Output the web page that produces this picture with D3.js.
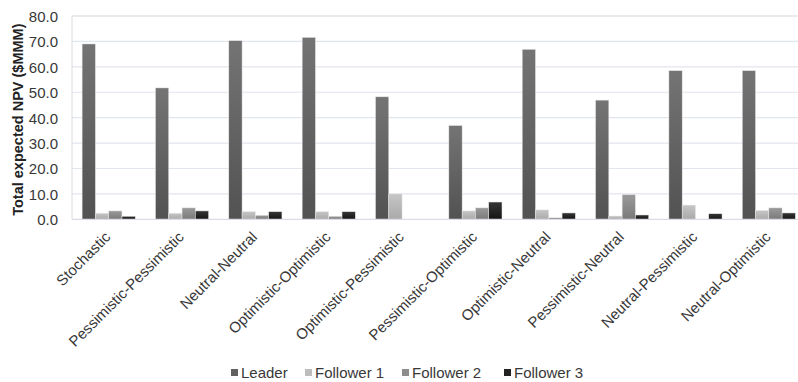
<!DOCTYPE html>
<html>
<head>
<meta charset="utf-8">
<script src="https://cdn.jsdelivr.net/npm/d3@7"></script>
<style>
  html, body { margin: 0; padding: 0; background: #fff; }
  svg { display: block; font-family: "Liberation Sans", Arial, sans-serif; }
</style>
</head>
<body>
<svg id="chart" width="798" height="382"></svg>
<script>
const categories = ["Stochastic", "Pessimistic-Pessimistic", "Neutral-Neutral", "Optimistic-Optimistic",
  "Optimistic-Pessimistic", "Pessimistic-Optimistic", "Optimistic-Neutral", "Pessimistic-Neutral",
  "Neutral-Pessimistic", "Neutral-Optimistic"];
const seriesNames = ["Leader", "Follower 1", "Follower 2", "Follower 3"];
const leader    = [69.0, 51.7, 70.3, 71.6, 48.2, 36.9, 66.9, 46.9, 58.5, 58.5];
const follower1 = [2.4, 2.4, 3.0, 3.0, 10.0, 3.3, 3.7, 1.3, 5.6, 3.5];
const follower2 = [3.3, 4.5, 1.6, 1.2, 0.0, 4.5, 0.6, 9.7, 0.0, 4.5];
const follower3 = [1.2, 3.3, 3.0, 3.0, 0.0, 6.8, 2.5, 1.7, 2.2, 2.5];
const yTicks = [0, 10, 20, 30, 40, 50, 60, 70, 80];
const yTitle = "Total expected NPV ($MMM)";

const seriesValues = [leader, follower1, follower2, follower3];
const gradStops = [["#747474", "#525252"], ["#c6c6c6", "#a9a9a9"], ["#9a9a9a", "#7a7a7a"], ["#363636", "#141414"]];
const legendColors = ["#606060", "#bdbdbd", "#8c8c8c", "#222222"];

const svg = d3.select("#chart");
const pLeft = 72, pTop = 16, pBottom = 219.3, pRight = 805.5;

const x0 = d3.scaleBand().domain(categories).range([pLeft, pRight]).padding(0);
const x1 = d3.scaleBand().domain(seriesNames).range([10.1, x0.bandwidth() - 10.1]).padding(0);
const y = d3.scaleLinear().domain([0, 80]).range([pBottom, pTop]);

const defs = svg.append("defs");
seriesNames.forEach((s, i) => {
  const g = defs.append("linearGradient").attr("id", "g" + i)
    .attr("x1", 0).attr("y1", 0).attr("x2", 0).attr("y2", 1);
  g.append("stop").attr("offset", "0%").attr("stop-color", gradStops[i][0]);
  g.append("stop").attr("offset", "100%").attr("stop-color", gradStops[i][1]);
});

// gridlines
svg.append("g").selectAll("line").data(yTicks.filter(d => d > 0)).join("line")
  .attr("x1", pLeft).attr("x2", pRight)
  .attr("y1", d => y(d)).attr("y2", d => y(d))
  .attr("stroke", d => d === 80 ? "#d4d6da" : "#e1e5ec").attr("stroke-width", 1.2);
// plot border left
svg.append("line").attr("x1", pLeft).attr("x2", pLeft).attr("y1", pTop).attr("y2", pBottom)
  .attr("stroke", "#dcdcdc").attr("stroke-width", 1);

// bars
const groups = svg.append("g").selectAll("g").data(categories).join("g")
  .attr("transform", d => `translate(${x0(d)},0)`);
groups.selectAll("rect").data((d, ci) => seriesNames.map((s, si) => ({s, si, v: seriesValues[si][ci]})))
  .join("rect")
  .attr("x", d => x1(d.s))
  .attr("width", x1.bandwidth())
  .attr("y", d => y(d.v))
  .attr("height", d => y(0) - y(d.v))
  .attr("fill", d => `url(#g${d.si})`)
  .attr("stroke", "#e8e8e8").attr("stroke-width", 0.5);

// x axis line
svg.append("line").attr("x1", pLeft).attr("x2", pRight).attr("y1", pBottom).attr("y2", pBottom)
  .attr("stroke", "#d9dde3").attr("stroke-width", 1.2);

// y axis
const yAxis = d3.axisLeft(y).tickValues(yTicks).tickFormat(d3.format(".1f")).tickSize(0).tickPadding(0);
const ya = svg.append("g").attr("transform", `translate(58,0)`).call(yAxis);
ya.select(".domain").remove();
ya.selectAll("text").attr("font-size", 15).attr("fill", "#383838")
  .attr("font-family", "'Liberation Sans', Arial, sans-serif").attr("dy", "0.36em");

// y title
svg.append("text").attr("transform", `translate(23,${(pTop + pBottom) / 2 + 2}) rotate(-90)`)
  .attr("text-anchor", "middle").attr("font-size", 14.5).attr("font-weight", "bold")
  .attr("fill", "#222").text(yTitle);

// x labels
const xAxis = d3.axisBottom(x0).tickSize(0).tickPadding(0);
const xa = svg.append("g").attr("transform", `translate(0,${pBottom})`).call(xAxis);
xa.select(".domain").remove();
xa.selectAll("text")
  .attr("font-size", 15).attr("fill", "#383838")
  .attr("font-family", "'Liberation Sans', Arial, sans-serif")
  .attr("text-anchor", "end")
  .attr("transform", "translate(-1,15) rotate(-45)")
  .attr("x", 0).attr("y", 0).attr("dy", "0.35em");

// legend
const legendX = [231, 305, 402, 504];
const lg = svg.append("g").selectAll("g").data(seriesNames).join("g")
  .attr("transform", (d, i) => `translate(${legendX[i]},373)`);
lg.append("rect").attr("x", 0).attr("y", -4).attr("width", 7).attr("height", 7)
  .attr("fill", (d, i) => legendColors[i]);
lg.append("text").attr("x", 10).attr("y", 0).attr("dy", "0.35em")
  .attr("font-size", 15).attr("fill", "#383838").text(d => d);
</script>
</body>
</html>
